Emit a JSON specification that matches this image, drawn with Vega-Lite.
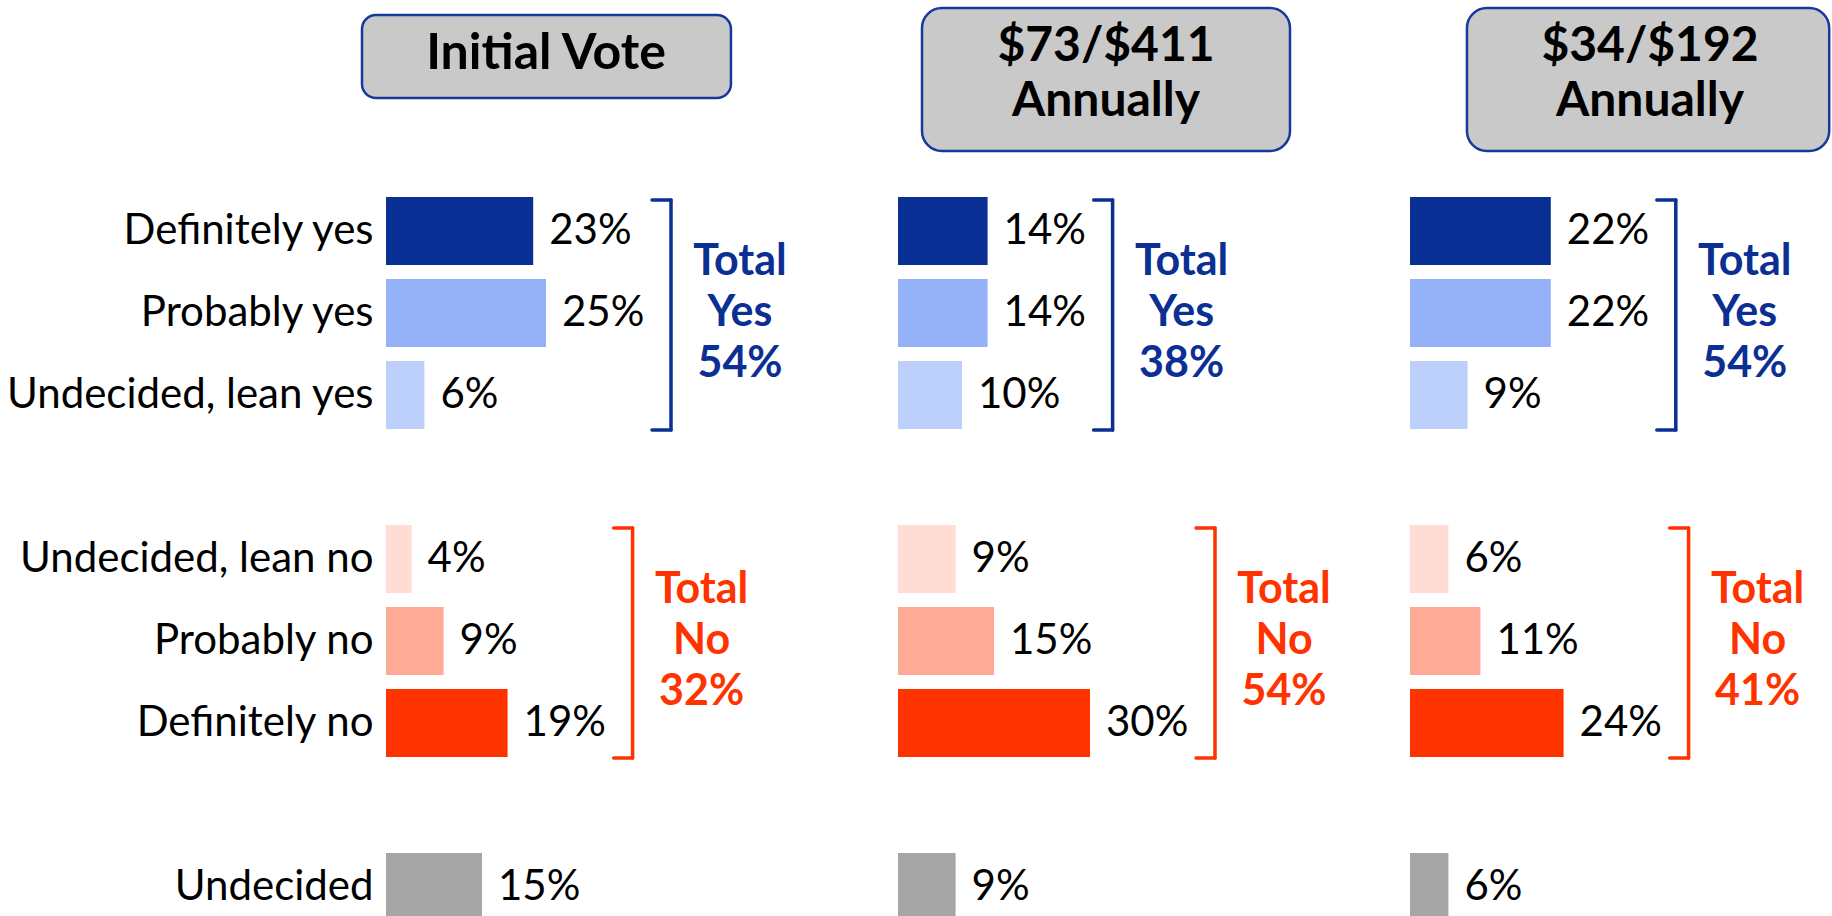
{
  "$schema": "https://vega.github.io/schema/vega-lite/v6.json",
  "background": "white",
  "padding": {"left": 5, "top": 6, "right": 0, "bottom": 0},
  "autosize": {"type": "pad"},
  "spacing": 0,
  "bounds": "flush",
  "resolve": {"scale": {"x": "independent", "y": "independent"}},
  "config": {"view": {"stroke": null}, "text": {"font": "Lato"}, "axis": {"labelFont": "Lato"}},
  "datasets": {
    "bars": [
      {"panel": "Initial Vote", "response": "Definitely yes", "group": "Yes", "value": 23},
      {"panel": "Initial Vote", "response": "Probably yes", "group": "Yes", "value": 25},
      {"panel": "Initial Vote", "response": "Undecided, lean yes", "group": "Yes", "value": 6},
      {"panel": "Initial Vote", "response": "Undecided, lean no", "group": "No", "value": 4},
      {"panel": "Initial Vote", "response": "Probably no", "group": "No", "value": 9},
      {"panel": "Initial Vote", "response": "Definitely no", "group": "No", "value": 19},
      {"panel": "Initial Vote", "response": "Undecided", "group": "Undecided", "value": 15},
      {"panel": "$73/$411 Annually", "response": "Definitely yes", "group": "Yes", "value": 14},
      {"panel": "$73/$411 Annually", "response": "Probably yes", "group": "Yes", "value": 14},
      {"panel": "$73/$411 Annually", "response": "Undecided, lean yes", "group": "Yes", "value": 10},
      {"panel": "$73/$411 Annually", "response": "Undecided, lean no", "group": "No", "value": 9},
      {"panel": "$73/$411 Annually", "response": "Probably no", "group": "No", "value": 15},
      {"panel": "$73/$411 Annually", "response": "Definitely no", "group": "No", "value": 30},
      {"panel": "$73/$411 Annually", "response": "Undecided", "group": "Undecided", "value": 9},
      {"panel": "$34/$192 Annually", "response": "Definitely yes", "group": "Yes", "value": 22},
      {"panel": "$34/$192 Annually", "response": "Probably yes", "group": "Yes", "value": 22},
      {"panel": "$34/$192 Annually", "response": "Undecided, lean yes", "group": "Yes", "value": 9},
      {"panel": "$34/$192 Annually", "response": "Undecided, lean no", "group": "No", "value": 6},
      {"panel": "$34/$192 Annually", "response": "Probably no", "group": "No", "value": 11},
      {"panel": "$34/$192 Annually", "response": "Definitely no", "group": "No", "value": 24},
      {"panel": "$34/$192 Annually", "response": "Undecided", "group": "Undecided", "value": 6}
    ],
    "titles": [
      {"panel": "Initial Vote", "title": "Initial Vote"},
      {"panel": "$73/$411 Annually", "title": "$73/$411\nAnnually"},
      {"panel": "$34/$192 Annually", "title": "$34/$192\nAnnually"}
    ],
    "totals_initial": [{"group": "Yes", "total": 54}, {"group": "No", "total": 32}],
    "totals_73": [{"group": "Yes", "total": 38}, {"group": "No", "total": 54}],
    "totals_34": [{"group": "Yes", "total": 54}, {"group": "No", "total": 41}]
  },
  "hconcat": [
    {
      "width": 512, "height": 891,
      "layer": [
        {
          "data": {"name": "titles"},
          "transform": [{"filter": "datum.panel === 'Initial Vote'"}],
          "mark": {"type": "rect", "fill": "#c9c9c9", "stroke": "#16399c", "strokeWidth": 2.5, "cornerRadius": 14, "yOffset": -52, "y2Offset": 31},
          "encoding": {
            "x": {"datum": -3.75, "type": "quantitative", "axis": null},
            "x2": {"datum": 53.9},
            "y": {"datum": "h1", "type": "nominal", "title": null},
            "y2": {"datum": "h1"}
          }
        },
        {
          "data": {"name": "titles"},
          "transform": [{"filter": "datum.panel === 'Initial Vote'"}],
          "mark": {"type": "text", "font": "Lato", "fontWeight": "bold", "fontSize": 50, "lineBreak": "\n", "lineHeight": 52, "align": "center", "baseline": "middle", "dy": -13, "color": "#000000"},
          "encoding": {
            "x": {"datum": 25, "type": "quantitative", "axis": null},
            "y": {"datum": "h1", "type": "nominal", "title": null},
            "text": {"field": "title"}
          }
        },
        {
          "data": {"name": "bars"},
          "transform": [{"filter": "datum.panel === 'Initial Vote'"}],
          "mark": {"type": "bar", "clip": true},
          "encoding": {
            "y": {"field": "response", "type": "nominal", "sort": null,
              "scale": {"domain": ["h1", "h2", "Definitely yes", "Probably yes", "Undecided, lean yes", "g1", "Undecided, lean no", "Probably no", "Definitely no", "g2", "Undecided"], "range": [0, 902], "paddingInner": 0.1707, "paddingOuter": 0.0854},
              "axis": {"values": ["Definitely yes", "Probably yes", "Undecided, lean yes", "Undecided, lean no", "Probably no", "Definitely no", "Undecided"], "title": null, "ticks": false, "domain": false, "grid": false, "labelFont": "Lato", "labelFontSize": 42, "labelColor": "#000000", "labelPadding": 13, "labelLimit": 600}},
            "x": {"field": "value", "type": "quantitative", "scale": {"domain": [0, 80], "nice": false}, "axis": null},
            "color": {"field": "response", "type": "nominal", "scale": {"domain": ["Definitely yes", "Probably yes", "Undecided, lean yes", "Undecided, lean no", "Probably no", "Definitely no", "Undecided"], "range": ["#0A2F94", "#95B1F7", "#BDD0FB", "#FFDDD5", "#FFAA96", "#FF3300", "#A6A6A6"]}, "legend": null}
          }
        },
        {
          "data": {"name": "bars"},
          "transform": [{"filter": "datum.panel === 'Initial Vote'"}, {"calculate": "datum.value + '%'", "as": "label"}],
          "mark": {"type": "text", "align": "left", "baseline": "middle", "dx": 16, "font": "Lato", "fontSize": 42, "color": "#000000"},
          "encoding": {
            "y": {"field": "response", "type": "nominal", "title": null},
            "x": {"field": "value", "type": "quantitative", "axis": null},
            "text": {"field": "label"}
          }
        },
        {
          "data": {"name": "bars"},
          "transform": [
            {"filter": "datum.panel === 'Initial Vote' && datum.group !== 'Undecided'"},
            {"joinaggregate": [{"op": "max", "field": "value", "as": "max"}], "groupby": ["group"]},
            {"window": [{"op": "first_value", "field": "response", "as": "first"}, {"op": "nth_value", "field": "response", "param": 2, "as": "mid"}, {"op": "last_value", "field": "response", "as": "last"}, {"op": "row_number", "as": "rn"}], "groupby": ["group"], "frame": [null, null]},
            {"filter": "datum.rn === 1"},
            {"lookup": "group", "from": {"data": {"name": "totals_initial"}, "key": "group", "fields": ["total"]}},
            {"calculate": "'Total\\n' + datum.group + '\\n' + datum.total + '%'", "as": "label"}
          ],
          "layer": [
            {
              "mark": {"type": "rule", "strokeWidth": 3.5, "strokeCap": "round", "xOffset": 125, "yOffset": -31, "y2Offset": 35},
              "encoding": {
                "x": {"field": "max", "type": "quantitative", "axis": null},
                "y": {"field": "first", "type": "nominal", "title": null},
                "y2": {"field": "last"},
                "stroke": {"field": "group", "type": "nominal", "scale": {"domain": ["Yes", "No"], "range": ["#0B2F92", "#FF3300"]}, "legend": null}
              }
            },
            {
              "mark": {"type": "rule", "strokeWidth": 3.5, "strokeCap": "round", "xOffset": 106, "x2Offset": 125, "yOffset": -31},
              "encoding": {
                "x": {"field": "max", "type": "quantitative", "axis": null},
                "x2": {"field": "max"},
                "y": {"field": "first", "type": "nominal", "title": null},
                "stroke": {"field": "group", "type": "nominal", "legend": null}
              }
            },
            {
              "mark": {"type": "rule", "strokeWidth": 3.5, "strokeCap": "round", "xOffset": 106, "x2Offset": 125, "yOffset": 35},
              "encoding": {
                "x": {"field": "max", "type": "quantitative", "axis": null},
                "x2": {"field": "max"},
                "y": {"field": "last", "type": "nominal", "title": null},
                "stroke": {"field": "group", "type": "nominal", "legend": null}
              }
            },
            {
              "mark": {"type": "text", "font": "Lato", "fontWeight": "bold", "fontSize": 43, "lineBreak": "\n", "lineHeight": 51, "xOffset": 194, "dy": -51, "align": "center", "baseline": "middle"},
              "encoding": {
                "x": {"field": "max", "type": "quantitative", "axis": null},
                "y": {"field": "mid", "type": "nominal", "title": null},
                "text": {"field": "label"},
                "fill": {"field": "group", "type": "nominal", "scale": {"domain": ["Yes", "No"], "range": ["#0B2F92", "#FF3300"]}, "legend": null}
              }
            }
          ]
        }
      ]
    },
    {
      "width": 512, "height": 891,
      "layer": [
        {
          "data": {"name": "titles"},
          "transform": [{"filter": "datum.panel === '$73/$411 Annually'"}],
          "mark": {"type": "rect", "fill": "#c9c9c9", "stroke": "#16399c", "strokeWidth": 2.5, "cornerRadius": 20, "yOffset": -59, "y2Offset": 84},
          "encoding": {
            "x": {"datum": 3.75, "type": "quantitative", "axis": null},
            "x2": {"datum": 61.25},
            "y": {"datum": "h1", "type": "nominal", "axis": null},
            "y2": {"datum": "h1"}
          }
        },
        {
          "data": {"name": "titles"},
          "transform": [{"filter": "datum.panel === '$73/$411 Annually'"}],
          "mark": {"type": "text", "font": "Lato", "fontWeight": "bold", "fontSize": 48, "lineBreak": "\n", "lineHeight": 55, "align": "center", "baseline": "middle", "dy": -20, "color": "#000000"},
          "encoding": {
            "x": {"datum": 32.5, "type": "quantitative", "axis": null},
            "y": {"datum": "h1", "type": "nominal", "axis": null},
            "text": {"field": "title"}
          }
        },
        {
          "data": {"name": "bars"},
          "transform": [{"filter": "datum.panel === '$73/$411 Annually'"}],
          "mark": {"type": "bar", "clip": true},
          "encoding": {
            "y": {"field": "response", "type": "nominal", "sort": null,
              "scale": {"domain": ["h1", "h2", "Definitely yes", "Probably yes", "Undecided, lean yes", "g1", "Undecided, lean no", "Probably no", "Definitely no", "g2", "Undecided"], "range": [0, 902], "paddingInner": 0.1707, "paddingOuter": 0.0854},
              "axis": null},
            "x": {"field": "value", "type": "quantitative", "scale": {"domain": [0, 80], "nice": false}, "axis": null},
            "color": {"field": "response", "type": "nominal", "scale": {"domain": ["Definitely yes", "Probably yes", "Undecided, lean yes", "Undecided, lean no", "Probably no", "Definitely no", "Undecided"], "range": ["#0A2F94", "#95B1F7", "#BDD0FB", "#FFDDD5", "#FFAA96", "#FF3300", "#A6A6A6"]}, "legend": null}
          }
        },
        {
          "data": {"name": "bars"},
          "transform": [{"filter": "datum.panel === '$73/$411 Annually'"}, {"calculate": "datum.value + '%'", "as": "label"}],
          "mark": {"type": "text", "align": "left", "baseline": "middle", "dx": 16, "font": "Lato", "fontSize": 42, "color": "#000000"},
          "encoding": {
            "y": {"field": "response", "type": "nominal", "axis": null},
            "x": {"field": "value", "type": "quantitative", "axis": null},
            "text": {"field": "label"}
          }
        },
        {
          "data": {"name": "bars"},
          "transform": [
            {"filter": "datum.panel === '$73/$411 Annually' && datum.group !== 'Undecided'"},
            {"joinaggregate": [{"op": "max", "field": "value", "as": "max"}], "groupby": ["group"]},
            {"window": [{"op": "first_value", "field": "response", "as": "first"}, {"op": "nth_value", "field": "response", "param": 2, "as": "mid"}, {"op": "last_value", "field": "response", "as": "last"}, {"op": "row_number", "as": "rn"}], "groupby": ["group"], "frame": [null, null]},
            {"filter": "datum.rn === 1"},
            {"lookup": "group", "from": {"data": {"name": "totals_73"}, "key": "group", "fields": ["total"]}},
            {"calculate": "'Total\\n' + datum.group + '\\n' + datum.total + '%'", "as": "label"}
          ],
          "layer": [
            {
              "mark": {"type": "rule", "strokeWidth": 3.5, "strokeCap": "round", "xOffset": 125, "yOffset": -31, "y2Offset": 35},
              "encoding": {
                "x": {"field": "max", "type": "quantitative", "axis": null},
                "y": {"field": "first", "type": "nominal", "axis": null},
                "y2": {"field": "last"},
                "stroke": {"field": "group", "type": "nominal", "scale": {"domain": ["Yes", "No"], "range": ["#0B2F92", "#FF3300"]}, "legend": null}
              }
            },
            {
              "mark": {"type": "rule", "strokeWidth": 3.5, "strokeCap": "round", "xOffset": 106, "x2Offset": 125, "yOffset": -31},
              "encoding": {
                "x": {"field": "max", "type": "quantitative", "axis": null},
                "x2": {"field": "max"},
                "y": {"field": "first", "type": "nominal", "axis": null},
                "stroke": {"field": "group", "type": "nominal", "legend": null}
              }
            },
            {
              "mark": {"type": "rule", "strokeWidth": 3.5, "strokeCap": "round", "xOffset": 106, "x2Offset": 125, "yOffset": 35},
              "encoding": {
                "x": {"field": "max", "type": "quantitative", "axis": null},
                "x2": {"field": "max"},
                "y": {"field": "last", "type": "nominal", "axis": null},
                "stroke": {"field": "group", "type": "nominal", "legend": null}
              }
            },
            {
              "mark": {"type": "text", "font": "Lato", "fontWeight": "bold", "fontSize": 43, "lineBreak": "\n", "lineHeight": 51, "xOffset": 194, "dy": -51, "align": "center", "baseline": "middle"},
              "encoding": {
                "x": {"field": "max", "type": "quantitative", "axis": null},
                "y": {"field": "mid", "type": "nominal", "axis": null},
                "text": {"field": "label"},
                "fill": {"field": "group", "type": "nominal", "scale": {"domain": ["Yes", "No"], "range": ["#0B2F92", "#FF3300"]}, "legend": null}
              }
            }
          ]
        }
      ]
    },
    {
      "width": 420, "height": 891,
      "layer": [
        {
          "data": {"name": "titles"},
          "transform": [{"filter": "datum.panel === '$34/$192 Annually'"}],
          "mark": {"type": "rect", "fill": "#c9c9c9", "stroke": "#16399c", "strokeWidth": 2.5, "cornerRadius": 20, "yOffset": -59, "y2Offset": 84},
          "encoding": {
            "x": {"datum": 8.9, "type": "quantitative", "axis": null},
            "x2": {"datum": 65.5},
            "y": {"datum": "h1", "type": "nominal", "axis": null},
            "y2": {"datum": "h1"}
          }
        },
        {
          "data": {"name": "titles"},
          "transform": [{"filter": "datum.panel === '$34/$192 Annually'"}],
          "mark": {"type": "text", "font": "Lato", "fontWeight": "bold", "fontSize": 48, "lineBreak": "\n", "lineHeight": 55, "align": "center", "baseline": "middle", "dy": -20, "color": "#000000"},
          "encoding": {
            "x": {"datum": 37.5, "type": "quantitative", "axis": null},
            "y": {"datum": "h1", "type": "nominal", "axis": null},
            "text": {"field": "title"}
          }
        },
        {
          "data": {"name": "bars"},
          "transform": [{"filter": "datum.panel === '$34/$192 Annually'"}],
          "mark": {"type": "bar", "clip": true},
          "encoding": {
            "y": {"field": "response", "type": "nominal", "sort": null,
              "scale": {"domain": ["h1", "h2", "Definitely yes", "Probably yes", "Undecided, lean yes", "g1", "Undecided, lean no", "Probably no", "Definitely no", "g2", "Undecided"], "range": [0, 902], "paddingInner": 0.1707, "paddingOuter": 0.0854},
              "axis": null},
            "x": {"field": "value", "type": "quantitative", "scale": {"domain": [0, 65.625], "nice": false}, "axis": null},
            "color": {"field": "response", "type": "nominal", "scale": {"domain": ["Definitely yes", "Probably yes", "Undecided, lean yes", "Undecided, lean no", "Probably no", "Definitely no", "Undecided"], "range": ["#0A2F94", "#95B1F7", "#BDD0FB", "#FFDDD5", "#FFAA96", "#FF3300", "#A6A6A6"]}, "legend": null}
          }
        },
        {
          "data": {"name": "bars"},
          "transform": [{"filter": "datum.panel === '$34/$192 Annually'"}, {"calculate": "datum.value + '%'", "as": "label"}],
          "mark": {"type": "text", "align": "left", "baseline": "middle", "dx": 16, "font": "Lato", "fontSize": 42, "color": "#000000"},
          "encoding": {
            "y": {"field": "response", "type": "nominal", "axis": null},
            "x": {"field": "value", "type": "quantitative", "axis": null},
            "text": {"field": "label"}
          }
        },
        {
          "data": {"name": "bars"},
          "transform": [
            {"filter": "datum.panel === '$34/$192 Annually' && datum.group !== 'Undecided'"},
            {"joinaggregate": [{"op": "max", "field": "value", "as": "max"}], "groupby": ["group"]},
            {"window": [{"op": "first_value", "field": "response", "as": "first"}, {"op": "nth_value", "field": "response", "param": 2, "as": "mid"}, {"op": "last_value", "field": "response", "as": "last"}, {"op": "row_number", "as": "rn"}], "groupby": ["group"], "frame": [null, null]},
            {"filter": "datum.rn === 1"},
            {"lookup": "group", "from": {"data": {"name": "totals_34"}, "key": "group", "fields": ["total"]}},
            {"calculate": "'Total\\n' + datum.group + '\\n' + datum.total + '%'", "as": "label"}
          ],
          "layer": [
            {
              "mark": {"type": "rule", "strokeWidth": 3.5, "strokeCap": "round", "xOffset": 125, "yOffset": -31, "y2Offset": 35},
              "encoding": {
                "x": {"field": "max", "type": "quantitative", "axis": null},
                "y": {"field": "first", "type": "nominal", "axis": null},
                "y2": {"field": "last"},
                "stroke": {"field": "group", "type": "nominal", "scale": {"domain": ["Yes", "No"], "range": ["#0B2F92", "#FF3300"]}, "legend": null}
              }
            },
            {
              "mark": {"type": "rule", "strokeWidth": 3.5, "strokeCap": "round", "xOffset": 106, "x2Offset": 125, "yOffset": -31},
              "encoding": {
                "x": {"field": "max", "type": "quantitative", "axis": null},
                "x2": {"field": "max"},
                "y": {"field": "first", "type": "nominal", "axis": null},
                "stroke": {"field": "group", "type": "nominal", "legend": null}
              }
            },
            {
              "mark": {"type": "rule", "strokeWidth": 3.5, "strokeCap": "round", "xOffset": 106, "x2Offset": 125, "yOffset": 35},
              "encoding": {
                "x": {"field": "max", "type": "quantitative", "axis": null},
                "x2": {"field": "max"},
                "y": {"field": "last", "type": "nominal", "axis": null},
                "stroke": {"field": "group", "type": "nominal", "legend": null}
              }
            },
            {
              "mark": {"type": "text", "font": "Lato", "fontWeight": "bold", "fontSize": 43, "lineBreak": "\n", "lineHeight": 51, "xOffset": 194, "dy": -51, "align": "center", "baseline": "middle"},
              "encoding": {
                "x": {"field": "max", "type": "quantitative", "axis": null},
                "y": {"field": "mid", "type": "nominal", "axis": null},
                "text": {"field": "label"},
                "fill": {"field": "group", "type": "nominal", "scale": {"domain": ["Yes", "No"], "range": ["#0B2F92", "#FF3300"]}, "legend": null}
              }
            }
          ]
        }
      ]
    }
  ]
}
